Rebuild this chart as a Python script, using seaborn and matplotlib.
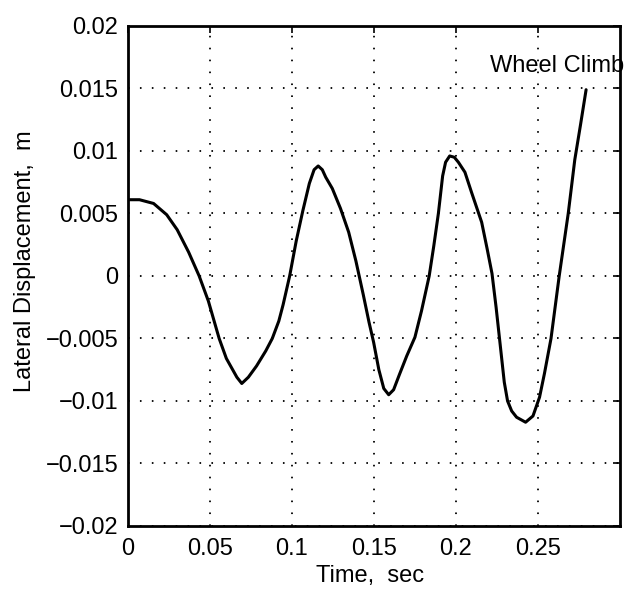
import numpy as np
import matplotlib
matplotlib.use('Agg')
import matplotlib.pyplot as plt
import pandas as pd
import seaborn as sns

# Valores (tiempo en s, desplazamiento lateral en m).
time_s = [
    0.000, 0.007, 0.0156, 0.0236, 0.030, 0.037, 0.0434, 0.049, 0.0556, 0.060,
    0.0664, 0.0694, 0.0734, 0.0784, 0.084, 0.088, 0.092, 0.0946, 0.0986, 0.1026,
    0.1066, 0.1106, 0.1135, 0.116, 0.1185, 0.1206, 0.1246, 0.1296, 0.1346, 0.139,
    0.1435, 0.147, 0.1498, 0.153, 0.156, 0.159, 0.162, 0.1655, 0.170, 0.173,
    0.175, 0.179, 0.1837, 0.1865, 0.1893, 0.1919, 0.1937, 0.1962, 0.199, 0.2015,
    0.2055, 0.2095, 0.2157, 0.219, 0.222, 0.2245, 0.227, 0.2295, 0.2315, 0.234,
    0.237, 0.2425, 0.247, 0.251, 0.254, 0.258, 0.263, 0.2685, 0.2725, 0.276,
    0.2794,
]
lateral_m = [
    0.0061, 0.0061, 0.0058, 0.0049, 0.0037, 0.0019, 0.0, -0.0020, -0.0050, -0.0066,
    -0.0081, -0.0086, -0.0081, -0.0072, -0.0060, -0.0050, -0.0036, -0.0023, 0.0, 0.0028,
    0.0052, 0.0074, 0.0085, 0.0088, 0.0085, 0.0079, 0.0070, 0.0054, 0.0035, 0.0012,
    -0.0015, -0.0037, -0.0053, -0.0075, -0.0090, -0.0095, -0.0091, -0.0079, -0.0064, -0.0055,
    -0.0049, -0.0028, 0.0, 0.0024, 0.0050, 0.0080, 0.0091, 0.0096, 0.0095, 0.0091,
    0.0083, 0.0067, 0.0043, 0.0022, 0.0002, -0.0025, -0.0055, -0.0085, -0.0100, -0.0108,
    -0.0113, -0.0117, -0.0112, -0.0097, -0.0078, -0.0050, 0.0, 0.0050, 0.0093, 0.0121,
    0.0149,
]

x_ticks = [0, 0.05, 0.1, 0.15, 0.2, 0.25]
x_tick_labels = ['0', '0.05', '0.1', '0.15', '0.2', '0.25']
y_ticks = [-0.02, -0.015, -0.01, -0.005, 0, 0.005, 0.01, 0.015, 0.02]
y_tick_labels = ['\u22120.02', '\u22120.015', '\u22120.01', '\u22120.005', '0',
                 '0.005', '0.01', '0.015', '0.02']

df = pd.DataFrame({'t': time_s, 'y': lateral_m})

sns.set_style('white')
plt.rcParams['font.family'] = ['Liberation Sans', 'DejaVu Sans']
plt.rcParams['text.color'] = 'black'
plt.rcParams['axes.labelcolor'] = 'black'

fig = plt.figure(figsize=(6.25, 5.9), dpi=100)
ax = fig.add_axes([0.2048, 0.1085, 0.787, 0.8475])

sns.lineplot(data=df, x='t', y='y', color='black', linewidth=2.2,
             estimator=None, sort=False, ax=ax)
ax.lines[0].set_solid_joinstyle('round')

ax.set_xlim(0, 0.3)
ax.set_ylim(-0.02, 0.02)
ax.set_xticks(x_ticks)
ax.set_xticklabels(x_tick_labels)
ax.set_yticks(y_ticks)
ax.set_yticklabels(y_tick_labels)

# Rejilla punteada al estilo MATLAB.
ax.grid(True, color='black', linewidth=1.3, linestyle=(0, (0.9, 5.7)))
ax.set_axisbelow(False)

for side in ax.spines.values():
    side.set_linewidth(2.0)
    side.set_color('black')

ax.tick_params(direction='in', length=5, width=1.2, top=True, right=True,
               labelsize=17, colors='black')
ax.tick_params(axis='y', pad=7)
ax.tick_params(axis='x', pad=9)

ax.set_xlabel('Time,  sec', fontsize=17, va='center', color='black')
ax.set_ylabel('Lateral Displacement,  m', fontsize=17, va='center', color='black')
ax.xaxis.set_label_coords(0.492, -0.10)
ax.yaxis.set_label_coords(-0.209, 0.53)

ax.text(0.2205, 0.0168, 'Wheel Climb', fontsize=17, ha='left', va='center',
        color='black', clip_on=False)

plt.savefig('out.png', dpi=100)
